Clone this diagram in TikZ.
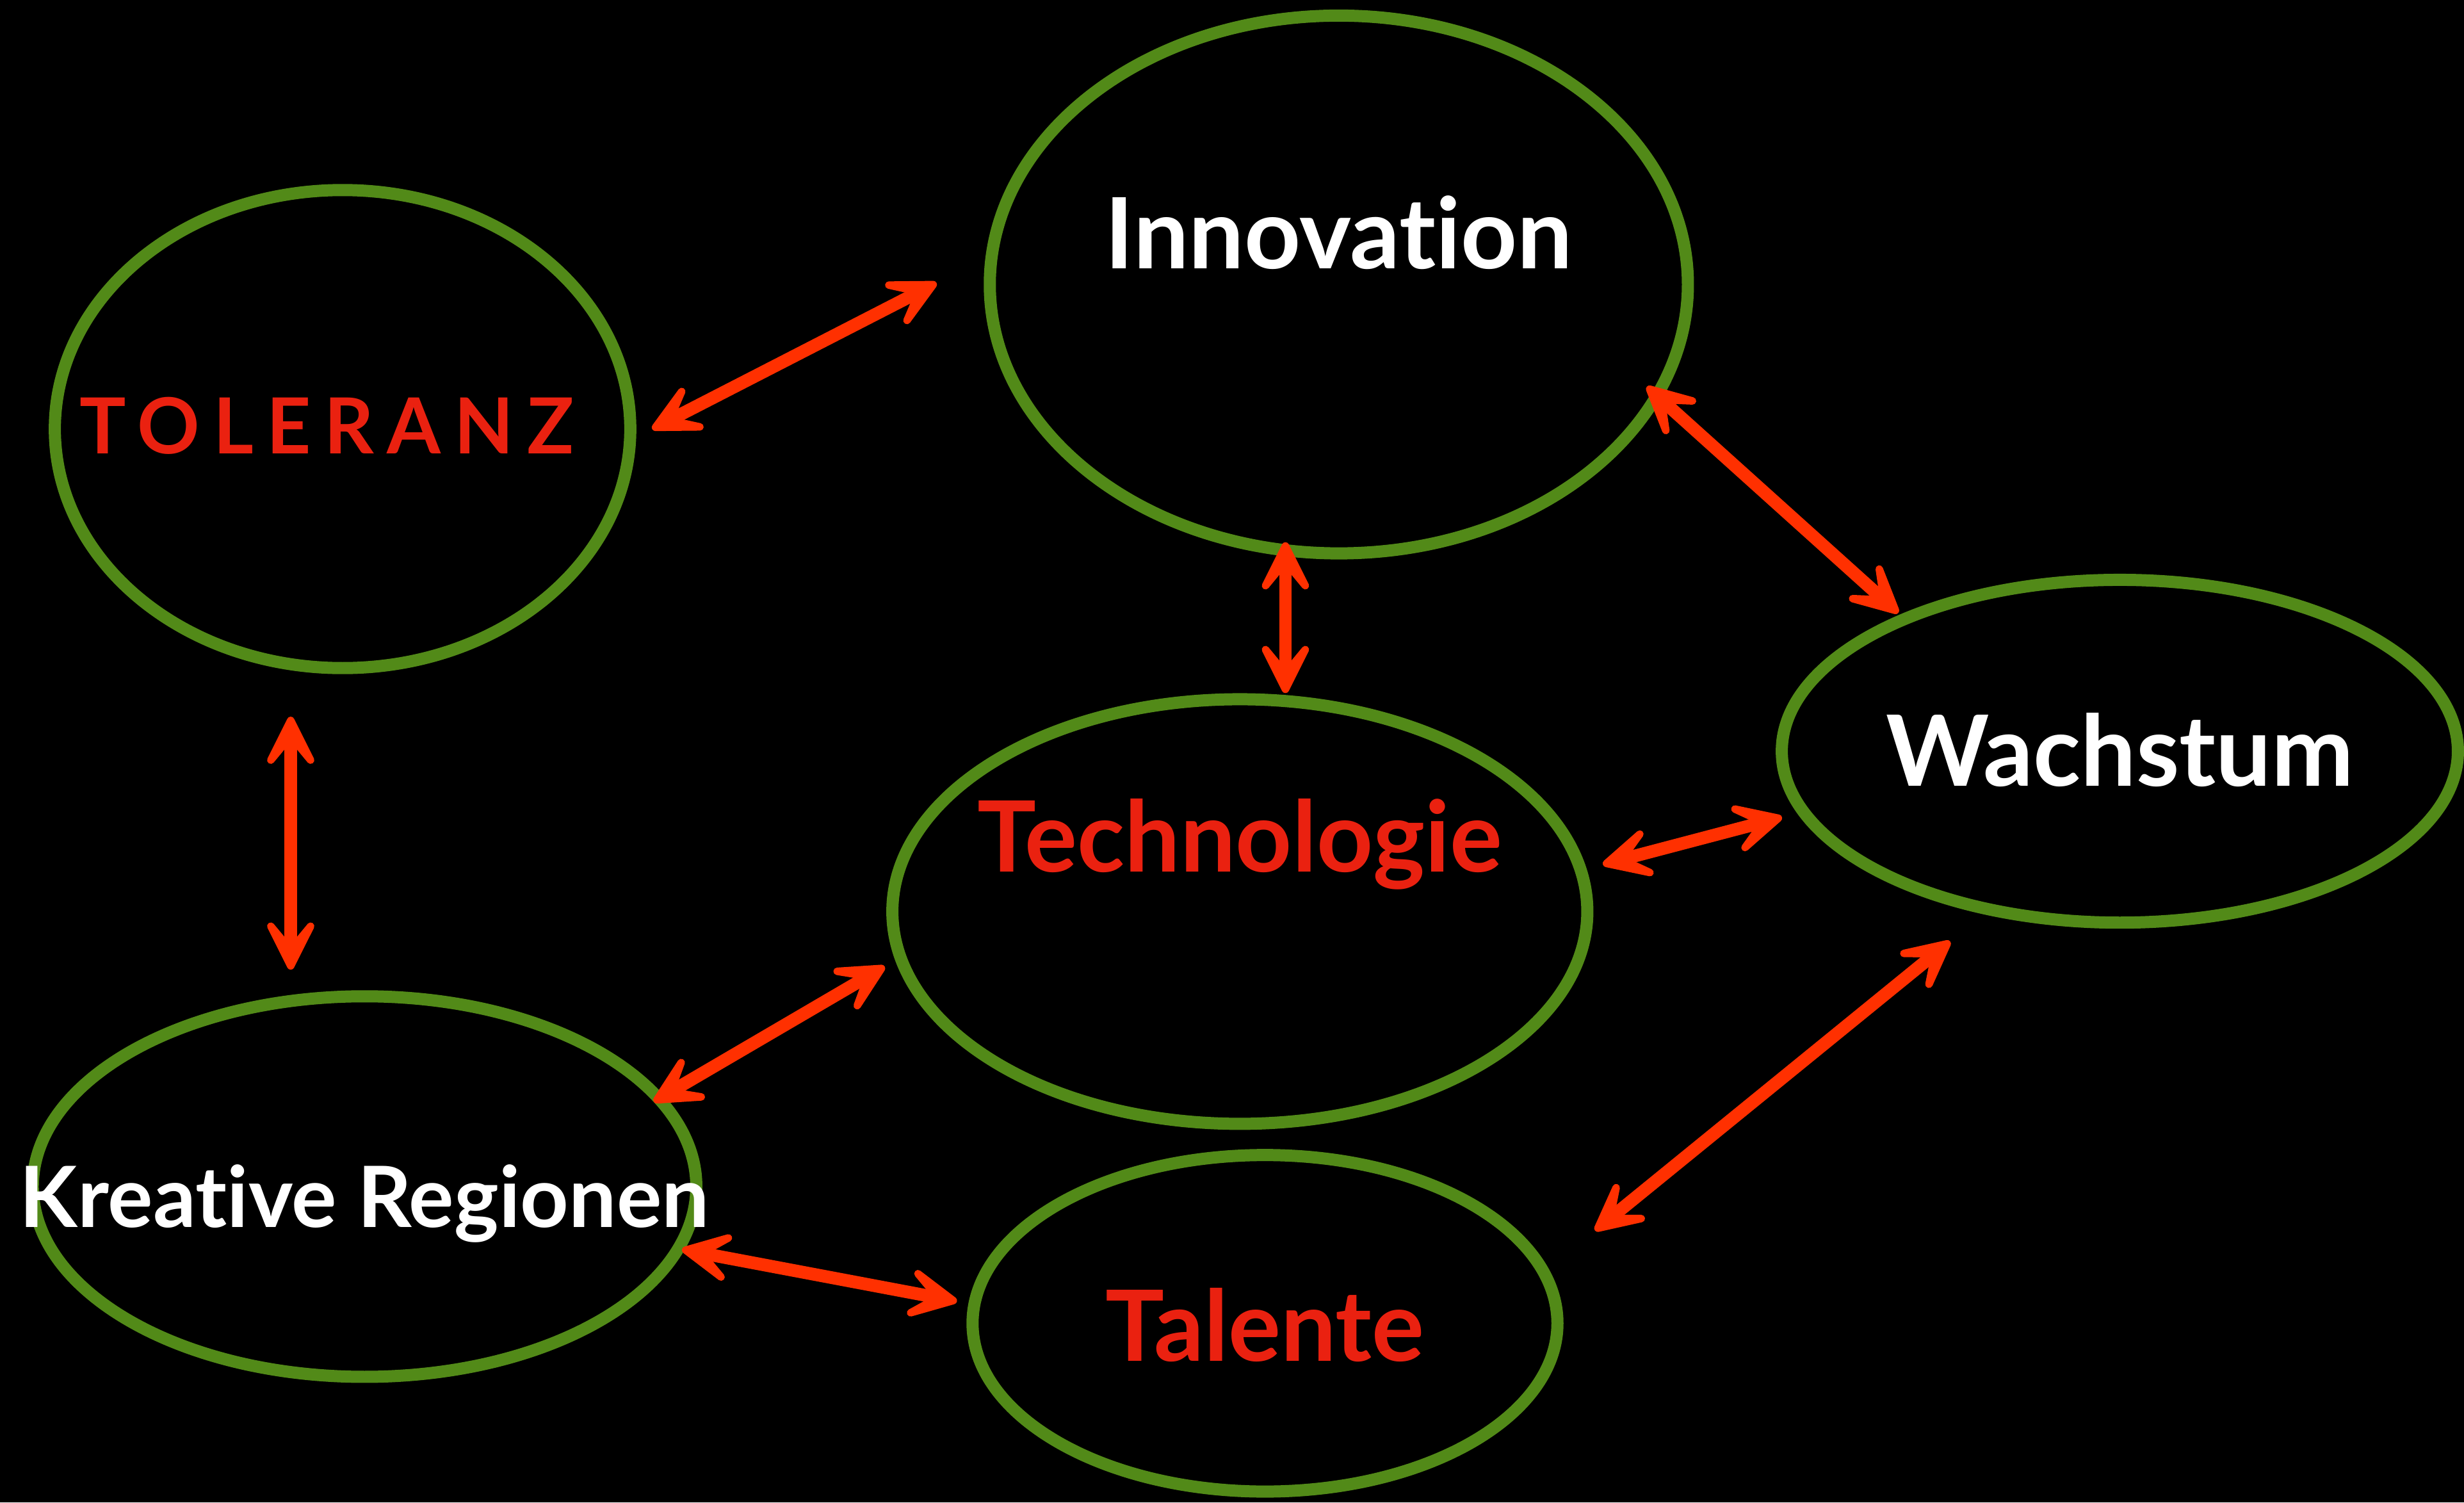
\documentclass[tikz,border=0pt]{standalone}
\usepackage{fontspec}
\setmainfont{Lato}[Ligatures={NoCommon}]
\usetikzlibrary{shapes.geometric,arrows.meta}
\definecolor{ovalgreen}{RGB}{82,138,24}
\definecolor{txtred}{RGB}{234,33,16}
\definecolor{arrred}{RGB}{255,48,0}
\begin{document}
\begin{tikzpicture}[x=0.01cm,y=-0.01cm,
  >={Stealth[length=4.8mm,width=4.8mm,inset=2.9mm,round]},
  oval/.style={draw=ovalgreen, line width=2.2pt, ellipse, inner sep=0pt},
  lbl/.style={inner sep=0pt, font=\fontsize{17.8}{20}\selectfont\bfseries},
  wlbl/.style={lbl, text=white},
  rlbl/.style={lbl, text=txtred},
  arr/.style={draw=arrred, line width=2.3pt, line cap=round, <->}]
\fill[black] (0,0) rectangle (1568,956);
\useasboundingbox (0,0) rectangle (1568,956);
% ovals
\node[oval, minimum width=3.66cm, minimum height=3.04cm] (tol) at (218,273) {};
\node[oval, minimum width=4.44cm, minimum height=3.42cm] (inn) at (852,181) {};
\node[oval, minimum width=4.30cm, minimum height=2.18cm] (wac) at (1349,478) {};
\node[oval, minimum width=4.42cm, minimum height=2.70cm] (tec) at (789,580) {};
\node[oval, minimum width=4.22cm, minimum height=2.42cm] (kre) at (232,755) {};
\node[oval, minimum width=3.72cm, minimum height=2.14cm] (tal) at (805,842) {};
% labels
\node[rlbl, font=\fontsize{14}{16}\selectfont\bfseries\addfontfeatures{LetterSpace=17}] (tolT) at (208,271) {TOLERANZ};
\node[wlbl] (innT) at (852,148) {Innovation};
\node[wlbl] (wacT) at (1349,477) {Wachstum};
\node[rlbl] (tecT) at (789,537) {Technologie};
\node[wlbl, font=\fontsize{15.3}{17}\selectfont\bfseries] (kreT) at (232,766) {Kreative Regionen};
\node[rlbl] (talT) at (805,843) {Talente};
% arrow end points
\coordinate (a1) at (415,273); \coordinate (b1) at (596,180);
\coordinate (a2) at (1048,246); \coordinate (b2) at (1208,390);
\coordinate (a3) at (818,345); \coordinate (b3) at (818,441);
\coordinate (a4) at (185,456); \coordinate (b4) at (185,617);
\coordinate (a5) at (1020,550); \coordinate (b5) at (1134,520);
\coordinate (a6) at (416,701); \coordinate (b6) at (563,615);
\coordinate (a7) at (434,795); \coordinate (b7) at (609,828);
\coordinate (a8) at (1015,783); \coordinate (b8) at (1241,599);
\foreach \i in {1,...,8} {\draw[arr] (a\i) -- (b\i);}
\end{tikzpicture}
\end{document}
